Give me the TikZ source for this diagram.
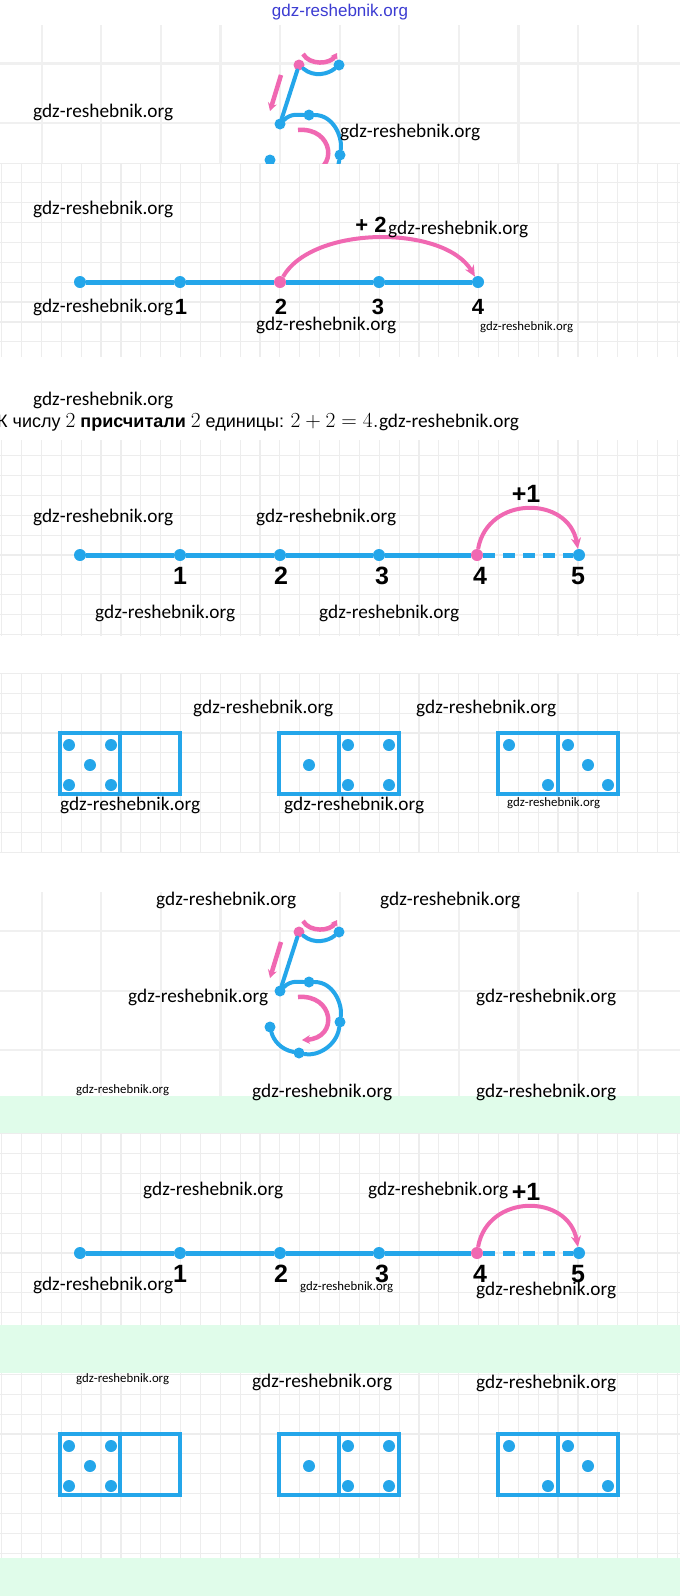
\documentclass[tikz,border=0pt]{standalone}
\usepackage{fix-cm}
\usepackage[no-math]{fontspec}
\setmainfont{Liberation Sans}
\newfontfamily\wmfont{Carlito}
\usepackage{xcolor}
\usepackage{pdfrender}
\usetikzlibrary{arrows.meta,positioning}

\definecolor{numblue}{RGB}{36,166,234}
\definecolor{jumppink}{RGB}{240,104,178}
\definecolor{mint}{RGB}{224,252,234}
\definecolor{wmblue}{RGB}{60,60,210}
\definecolor{gridgray}{RGB}{237,237,237}

\newcommand\mth[1]{{\fontsize{21.5}{23}\selectfont$#1$}}

% grid of one panel: style, top, bottom, x offset, y offset, step
\newcommand\gridpanel[6]{%
  \begin{scope}
    \clip (0,#2) rectangle (680,#3);
    \foreach \k in {0,...,36}
      \draw[#1] ({#4+#6*\k},#2) -- ({#4+#6*\k},#3);
    \foreach \k in {-12,...,12}
      \draw[#1] (0,{#5+#6*\k}) -- (680,{#5+#6*\k});
  \end{scope}}

\tikzset{
  gridline/.style={draw=gridgray, line width=1.2pt},
  biggridline/.style={draw=gridgray!85, line width=2.2pt},
  wm/.style={font=\wmfont\fontsize{19.3}{22}\selectfont, inner sep=0pt, anchor=west},
  wmsmall/.style={wm, font=\wmfont\fontsize{12.8}{15}\selectfont},
  bluedot/.style={circle, fill=numblue, inner sep=0pt, minimum size=12pt},
  pinkdot/.style={bluedot, fill=jumppink},
  pip/.style={bluedot},
  axis/.style={draw=numblue, line width=5pt},
  jump/.style={draw=jumppink, line width=4pt, -{Stealth[length=11pt,width=10pt]}},
  stroke5/.style={draw=numblue, line width=4pt, line cap=round},
  guide/.style={draw=jumppink, line width=4.5pt, -{Stealth[length=8pt,width=9pt]}},
  numlbl/.style={font=\bfseries\fontsize{25}{27}\selectfont, inner sep=0pt},
  numlblB/.style={font=\bfseries\fontsize{22}{24}\selectfont, inner sep=0pt},
  domline/.style={draw=numblue, line width=4.5pt},
  five/.pic={
    \node[pinkdot, minimum size=11pt] (-a) at (0,0) {};
    \node[bluedot, minimum size=11pt] (-b) at (40,0) {};
    \node[bluedot, minimum size=11pt] (-c) at (-19,59) {};
    \node[bluedot, minimum size=11pt] (-d) at (10,50) {};
    \node[bluedot, minimum size=11pt] (-e) at (41,90) {};
    \node[bluedot, minimum size=11pt] (-f) at (0,121) {};
    \node[bluedot, minimum size=11pt] (-g) at (-29,95) {};
    \draw[stroke5] (-a) to[out=-40,in=-140] (-b);
    \draw[stroke5] (-a) -- (-c);
    \draw[stroke5] (-c) to[out=45,in=180] (-d) to[out=0,in=82] (-e)
      to[out=-98,in=-11] (-f) to[out=169,in=-75] (-g);
    \coordinate (-h1) at (4,-11);
    \coordinate (-h2) at (38,-12);
    \draw[guide, -{Stealth[length=6pt,width=8pt]}] (-h1) to[out=-60,in=-120] (-h2);
    \coordinate (-v1) at (-18,10);
    \coordinate (-v2) at (-29,46);
    \draw[guide] (-v1) -- (-v2);
    \coordinate (-r1) at (-1,65);
    \coordinate (-r2) at (3,108);
    \draw[guide] (-r1) .. controls (35,62) and (40,106) .. (-r2);
  }
}

\begin{document}
\begin{tikzpicture}[x=1pt,y=-1pt]
\useasboundingbox (0,0) rectangle (680,1596);
\fill[white] (0,0) rectangle (680,1596);
% green bands
\fill[mint] (0,1096) rectangle (680,1133);
\fill[mint] (0,1325) rectangle (680,1373);
\fill[mint] (0,1558) rectangle (680,1596);
% squared paper
\gridpanel{biggridline}{25}{163}{-17.9}{63.5}{59.6}
\gridpanel{gridline}{163}{357}{1.7}{163}{19.87}
\gridpanel{gridline}{440}{636}{1.7}{555}{19.87}
\gridpanel{gridline}{673}{853}{1.7}{733}{19.87}
\gridpanel{biggridline}{892}{1096}{-17.9}{931}{59.6}
\gridpanel{gridline}{1133}{1325}{1.7}{1253}{19.87}
\gridpanel{gridline}{1373}{1558}{1.7}{1434}{19.87}

% digit 5, cut off
\begin{scope}
  \clip (0,25) rectangle (680,163);
  \pic (fiveA) at (299,65) {five};
\end{scope}

% number line, +2
\foreach \i/\x/\s in {0/80/bluedot,1/180/bluedot,2/280/pinkdot,3/379/bluedot,4/478/bluedot}
  \node[\s] (b\i) at (\x,282) {};
\draw[axis] (b0) -- (b1) -- (b2) -- (b3) -- (b4);
\draw[jump] (b2) to[out=60,in=120,looseness=0.8] (b4);
\foreach \i/\x in {1/181,2/281,3/378,4/478}
  \node[numlblB] (b-l\i) at (\x,307) {\i};
\node[numlblB] (b-jump) at (371,225) {+ 2};

% sentence
\node[anchor=base west, inner sep=0pt, font=\fontsize{18}{20}\selectfont] (sentence) at (-3,427)
  {К числу \mth{2} \textbf{присчитали} \mth{2} единицы: \mth{2+2=4.}};
\node[wm, anchor=base west] (wm-s) at (sentence.base east) {gdz-reshebnik.org};

% number lines, +1
\foreach \nl/\yy in {c/555,f/1253}{
  \foreach \i/\x/\s in {0/80/bluedot,1/180/bluedot,2/280/bluedot,3/379/bluedot,4/477/pinkdot,5/579/bluedot}
    \node[\s] (\nl\i) at (\x,\yy) {};
  \draw[axis] (\nl0) -- (\nl1) -- (\nl2) -- (\nl3) -- (\nl4);
  \draw[axis, dash pattern=on 12pt off 8pt] (\nl4) -- (\nl5);
  \draw[jump] (\nl4) to[out=80,in=100,looseness=1.4] (\nl5);
  \foreach \i/\x in {1/180,2/281,3/382,4/480,5/578}
    \node[numlbl] (\nl-l\i) at (\x,{\yy+21}) {\i};
  \node[numlbl] (\nl-jump) at (526,{\yy-61}) {+1};
}

% dominoes
\foreach \dy in {0,701}{
  \foreach \x in {60,279,498}{
    \draw[domline] (\x,{733+\dy}) rectangle ({\x+120},{794+\dy});
    \draw[domline] ({\x+60},{733+\dy}) -- ({\x+60},{794+\dy});
  }
  \foreach \n/\x/\y in {a/69/745,b/111/745,c/90/765,d/69/785,e/111/785,
      f/309/765,g/348/745,h/389/745,i/348/785,j/389/785,
      k/509/745,l/548/785,m/568/745,n/588/765,o/608/785}
    \node[pip] (pip\n\dy) at (\x,{\y+\dy}) {};
}

% digit 5
\pic (fiveE) at (299,932) {five};

% watermarks
\node[font=\fontsize{17}{19}\selectfont, text=wmblue, inner sep=0pt] (wm-top) at (340,12)
  {\textpdfrender{TextRenderingMode=1,LineWidth=0.45}{gdz-reshebnik.org}};
\foreach \x/\y [count=\n] in {33/112,340/132,33/209,388/229,33/307,256/325,33/400,
    33/517,256/517,95/613,319/613,193/708,416/708,60/805,284/805,
    156/900,380/900,128/997,476/997,252/1092,476/1092,
    143/1190,368/1190,33/1285,476/1290,252/1382,476/1383}
  \node[wm] (wm\n) at (\x,\y) {gdz-reshebnik.org};
\foreach \x/\y [count=\n] in {480/327,507/803,76/1090,300/1287,76/1379}
  \node[wmsmall] (wms\n) at (\x,\y) {gdz-reshebnik.org};
\end{tikzpicture}
\end{document}
